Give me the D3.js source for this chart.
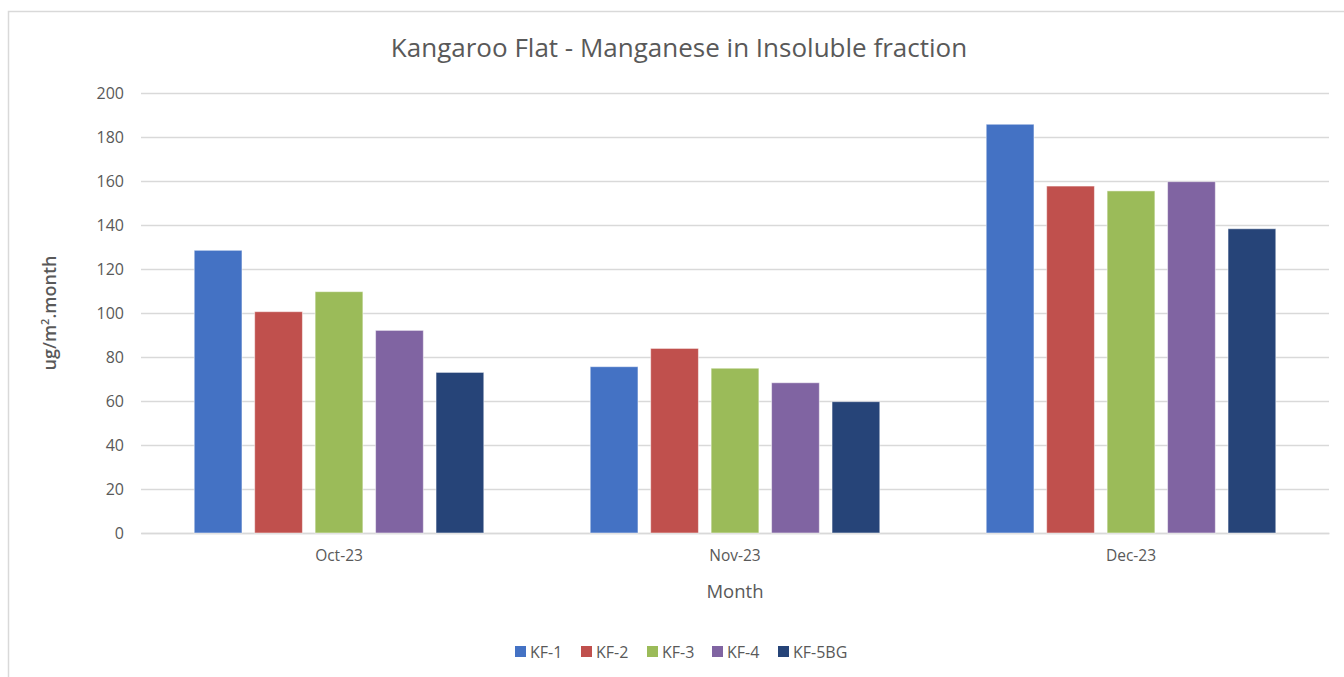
<!DOCTYPE html>
<html>
<head>
<meta charset="utf-8">
<script src="https://cdn.jsdelivr.net/npm/d3@7"></script>
<style>
  body { margin:0; background:#fff; }
  text { font-family: "Open Sans", sans-serif; fill:#595959; }
</style>
</head>
<body>
<svg id="chart"></svg>
<script>
// months on the x axis
var months = ["Oct-23","Nov-23","Dec-23"];
// sites, one bar each per month
var sites = ["KF-1","KF-2","KF-3","KF-4","KF-5BG"];
var siteColors = ["#4472c4","#c0504d","#9bbb59","#8064a2","#264478"];
// values, per site (Oct, Nov, Dec)
var kf1 = [128.5, 75.6, 185.8];
var kf2 = [100.6, 83.9, 157.7];
var kf3 = [109.7, 74.9, 155.5];
var kf4 = [92.1, 68.3, 159.7];
var kf5bg = [73.0, 59.7, 138.3];
var yTicks = [0,20,40,60,80,100,120,140,160,180,200];

var seriesValues = [kf1, kf2, kf3, kf4, kf5bg];

var screen = {width:1344, height:677};
var margins = {left:141, right:15, top:93, bottom:144};
var graph = {
    width: screen.width - margins.left - margins.right,
    height: screen.height - margins.top - margins.bottom
};

var svg = d3.select("#chart")
    .attr("width", screen.width)
    .attr("height", screen.height);

// chart border
svg.append("rect")
    .attr("x", 8.5).attr("y", 11.5)
    .attr("width", 1350).attr("height", 700)
    .attr("fill", "none")
    .attr("stroke", "#d9d9d9")
    .attr("stroke-width", 1.5);

var target = svg.append("g")
    .attr("transform", "translate(" + margins.left + "," + margins.top + ")");

var xScale = d3.scaleBand()
    .domain(months)
    .range([0, graph.width]);

var xInner = d3.scaleBand()
    .domain(sites)
    .range([0, xScale.bandwidth()])
    .paddingInner(0.21)
    .paddingOuter(0.88);

var yScale = d3.scaleLinear()
    .domain([0, 200])
    .range([graph.height, 0]);

// gridlines + y labels
var yAxis = d3.axisLeft(yScale)
    .tickValues(yTicks)
    .tickSize(-graph.width)
    .tickPadding(17);

var yg = target.append("g").call(yAxis);
yg.select(".domain").remove();
yg.selectAll(".tick line").attr("stroke", "#d9d9d9").attr("stroke-width", 1.3);
yg.selectAll(".tick text")
    .style("font-size", "16px")
    .style("font-family", "'Open Sans', sans-serif")
    .attr("fill", "#595959");

// x axis
var xAxis = d3.axisBottom(xScale).tickSize(0).tickPadding(17);
var xg = target.append("g")
    .attr("transform", "translate(0," + graph.height + ")")
    .call(xAxis);
xg.select(".domain").attr("stroke", "#d9d9d9").attr("stroke-width", 1.3);
xg.selectAll(".tick text")
    .style("font-size", "15.5px")
    .style("font-family", "'Open Sans', sans-serif")
    .attr("fill", "#595959");

// bars
var groups = target.selectAll(".month")
    .data(months)
    .enter()
    .append("g")
    .classed("month", true)
    .attr("transform", function(m) { return "translate(" + xScale(m) + ",0)"; });

groups.selectAll("rect")
    .data(function(m, mi) {
        return sites.map(function(s, si) {
            return {site: s, value: seriesValues[si][mi], color: siteColors[si]};
        });
    })
    .enter()
    .append("rect")
    .attr("x", function(d) { return xInner(d.site); })
    .attr("y", function(d) { return yScale(d.value); })
    .attr("width", xInner.bandwidth())
    .attr("height", function(d) { return graph.height - yScale(d.value); })
    .attr("fill", function(d) { return d.color; })
    .attr("stroke", "#ffffff")
    .attr("stroke-opacity", 0.5)
    .attr("stroke-width", 1);

// title
svg.append("text")
    .attr("x", 679).attr("y", 57)
    .attr("text-anchor", "middle")
    .style("font-size", "26px")
    .text("Kangaroo Flat - Manganese in Insoluble fraction");

// axis titles
svg.append("text")
    .attr("x", margins.left + graph.width / 2).attr("y", 598)
    .attr("text-anchor", "middle")
    .style("font-size", "18.5px")
    .text("Month");

var yl = svg.append("text")
    .attr("transform", "translate(56," + (margins.top + graph.height / 2) + ") rotate(-90)")
    .attr("text-anchor", "middle")
    .style("font-size", "18px")
    .style("font-weight", "600");
yl.append("tspan").text("ug/m");
yl.append("tspan").attr("dy", -7).style("font-size", "11px").text("2");
yl.append("tspan").attr("dy", 7).text(".month");

// legend
var legendX = [515, 581, 647, 712, 778];
var legend = svg.selectAll(".legend")
    .data(sites)
    .enter()
    .append("g")
    .classed("legend", true)
    .attr("transform", function(s, i) { return "translate(" + legendX[i] + ",646)"; });

legend.append("rect")
    .attr("width", 11).attr("height", 11)
    .attr("fill", function(s, i) { return siteColors[i]; });

legend.append("text")
    .attr("x", 15).attr("y", 11.5)
    .style("font-size", "16px")
    .text(function(s) { return s; });
</script>
</body>
</html>
